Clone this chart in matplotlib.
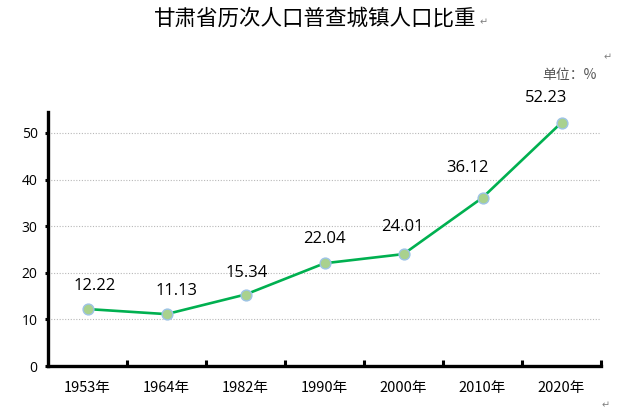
import matplotlib
matplotlib.use("Agg")
import matplotlib.pyplot as plt
import numpy as np

plt.rcParams['font.family'] = ['Noto Sans CJK SC', 'DejaVu Sans']

years = ["1953年", "1964年", "1982年", "1990年", "2000年", "2010年", "2020年"]
values = [12.22, 11.13, 15.34, 22.04, 24.01, 36.12, 52.23]
yticks = [0, 10, 20, 30, 40, 50]

# label placement (pixel offsets of each data label from its point)
label_dx = [7, 10, 1, 0, -1, -15, -15]
label_dy = [23, 23, 22, 24, 27, 30, 25]

fig = plt.figure(figsize=(6.26, 4.15), dpi=100)
ax = fig.add_axes([48/626, (415-366)/415, (601-48)/626, (366-112)/415])

x = np.arange(len(years))
ax.plot(x, values, color="#00B050", lw=1.9, marker="o", ms=7.8,
        markerfacecolor="#A9D18E", markeredgecolor="#9DC3E6", markeredgewidth=1.0,
        zorder=3)
for xi, v, dx, dy in zip(x, values, label_dx, label_dy):
    ax.annotate(f"{v:.2f}", (xi, v), xytext=(dx * 0.72, dy * 0.72), textcoords="offset points",
                ha="center", va="center", fontsize=12, family=["Open Sans", "DejaVu Sans"])

ax.set_xlim(-0.5, len(years) - 0.5)
ax.set_ylim(0, 54.5)
ax.set_yticks(yticks)
ax.set_yticklabels([str(t) for t in yticks], fontsize=10, family=["Open Sans"])
ax.yaxis.grid(True, color="#B8B8B8", linestyle=(0, (1, 1.5)), linewidth=0.8)
ax.set_axisbelow(True)

# category labels centered, ticks at boundaries
ax.set_xticks(x)
ax.set_xticklabels(years, fontsize=10.5)
ax.tick_params(axis="x", length=0, pad=11)
ax.set_xticks(np.arange(0.5, len(years), 1), minor=True)
ax.tick_params(axis="x", which="minor", direction="in", length=4, width=2.2)
ax.tick_params(axis="y", direction="out", length=2.5, width=2.2, pad=5)

for s in ["top", "right"]:
    ax.spines[s].set_visible(False)
for s in ["left", "bottom"]:
    ax.spines[s].set_linewidth(2.4)

fig.text(315/626, 1 - 19/415, "甘肃省历次人口普查城镇人口比重", ha="center", va="center",
         fontsize=15.5, fontweight="light")
fig.text(480/626, 1 - 22/415, "↵", ha="left", va="center", fontsize=7, color="#808080", family=["DejaVu Sans"])
fig.text(569/626, 1 - 75/415, "单位：%", ha="center", va="center", fontsize=10, color="#555555")
fig.text(604/626, 1 - 57/415, "↵", ha="left", va="center", fontsize=7, color="#808080", family=["DejaVu Sans"])
fig.text(602/626, 1 - 405/415, "↵", ha="left", va="center", fontsize=7, color="#808080", family=["DejaVu Sans"])

fig.savefig("out.png", dpi=100)
